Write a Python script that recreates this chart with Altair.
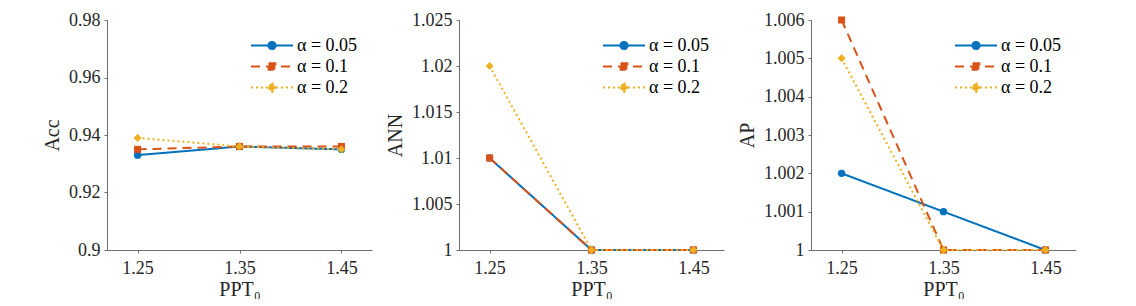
import altair as alt
import pandas as pd

x_vals = [1.25, 1.35, 1.45]
series = ["α = 0.05", "α = 0.1", "α = 0.2"]
colors = ["#0072BD", "#D95319", "#EDB120"]

acc_005 = [0.933, 0.936, 0.935]
acc_01 = [0.935, 0.936, 0.936]
acc_02 = [0.939, 0.936, 0.935]

ann_005 = [1.01, 1.0, 1.0]
ann_01 = [1.01, 1.0, 1.0]
ann_02 = [1.02, 1.0, 1.0]

ap_005 = [1.002, 1.001, 1.000]
ap_01 = [1.006, 1.0, 1.0]
ap_02 = [1.005, 1.0, 1.0]

acc_ticks = [0.9, 0.92, 0.94, 0.96, 0.98]
ann_ticks = [1.0, 1.005, 1.01, 1.015, 1.02, 1.025]
ap_ticks = [1.0, 1.001, 1.002, 1.003, 1.004, 1.005, 1.006]

FONT = "Liberation Serif"
dashes = [[1, 0], [9, 6], [2, 3]]
marker_shapes = ["circle", "square", "diamond"]
marker_sizes = [55, 50, 65]
# legend glyphs: a line with the marker at its middle (unit = sqrt(size)/2 px)
legend_paths = [
    "M-3,0L1,0M-0.66,0A0.34,0.34,0,1,1,-1.34,0A0.34,0.34,0,1,1,-0.66,0",
    "M-3,0L1,0M-1.32,-0.32L-0.68,-0.32L-0.68,0.32L-1.32,0.32Z",
    "M-3,0L1,0M-1,-0.44L-0.64,0L-1,0.44L-1.36,0Z",
]


def make_df(vals):
    rows = []
    for s, ys in zip(series, vals):
        for x, y in zip(x_vals, ys):
            rows.append({"PPT": x, "value": y, "series": s})
    return pd.DataFrame(rows)


def panel(title, vals, ydomain, yticks, fmt):
    df = make_df(vals)
    leg = alt.Legend(
        title=None,
        orient="top-right",
        offset=14,
        padding=0,
        labelFont=FONT,
        labelFontSize=18,
        labelColor="#000000",
        labelOffset=3,
        rowPadding=0,
        symbolSize=441,
        symbolStrokeWidth=2,
    )
    xenc = alt.X(
        "PPT:Q",
        scale=alt.Scale(domain=[1.22, 1.48], nice=False, zero=False),
        axis=alt.Axis(values=x_vals, format=".2f", title="PPT₀", labelFont=FONT, titleFont=FONT),
    )
    yenc = alt.Y(
        "value:Q",
        scale=alt.Scale(domain=ydomain, nice=False, zero=False),
        axis=alt.Axis(values=yticks, format=fmt, title=title, labelFont=FONT, titleFont=FONT),
    )
    cscale = alt.Scale(domain=series, range=colors)
    dscale = alt.Scale(domain=series, range=dashes)
    base = alt.Chart(df)
    layers = []
    for s, shp, sz in zip(series, marker_shapes, marker_sizes):
        sub = base.transform_filter(alt.datum.series == s)
        layers.append(
            sub.mark_line(strokeWidth=2).encode(
                x=xenc, y=yenc,
                color=alt.Color("series:N", scale=cscale, legend=leg),
                strokeDash=alt.StrokeDash("series:N", scale=dscale, legend=leg),
            )
        )
        layers.append(
            sub.mark_point(filled=True, opacity=1, size=sz, shape=shp).encode(
                x=xenc, y=yenc,
                color=alt.Color("series:N", scale=cscale, legend=leg),
            )
        )
    lg = base.transform_filter("false").mark_point(filled=False, opacity=1, strokeWidth=2).encode(
        x=xenc, y=yenc,
        color=alt.Color("series:N", scale=cscale, legend=leg),
        strokeDash=alt.StrokeDash("series:N", scale=dscale, legend=leg),
        fill=alt.Fill("series:N", scale=alt.Scale(domain=series, range=colors), legend=leg),
        shape=alt.Shape("series:N", scale=alt.Scale(domain=series, range=legend_paths), legend=leg),
    )
    layers.append(lg)
    return alt.layer(*layers).properties(width=265, height=230)


p1 = panel("Acc", [acc_005, acc_01, acc_02], [0.9, 0.98], acc_ticks, ".2~f")
p2 = panel("ANN", [ann_005, ann_01, ann_02], [1.0, 1.025], ann_ticks, ".3~f")
p3 = panel("AP", [ap_005, ap_01, ap_02], [1.0, 1.006], ap_ticks, ".3~f")

chart = alt.hconcat(p1, p2, p3, spacing=87, bounds="flush").resolve_scale(
    color="independent", strokeDash="independent", fill="independent", shape="independent"
).resolve_legend(
    color="independent", strokeDash="independent", fill="independent", shape="independent"
).properties(
    padding={"left": 34, "top": 3, "right": 0, "bottom": 0}
).configure(font=FONT).configure_view(stroke=None).configure_axis(
    grid=False,
    domainColor="#6e6e6e",
    domainWidth=1,
    tickColor="#6e6e6e",
    tickSize=3,
    labelFont=FONT,
    labelFontSize=18,
    labelColor="#262626",
    labelPadding=4,
    titleFont=FONT,
    titleFontSize=20,
    titleFontWeight="normal",
    titleColor="#262626",
    titlePadding=6,
).configure_axisX(labelPadding=6, titlePadding=2)

chart.save("out.html", embed_options={"renderer": "svg", "actions": False})
